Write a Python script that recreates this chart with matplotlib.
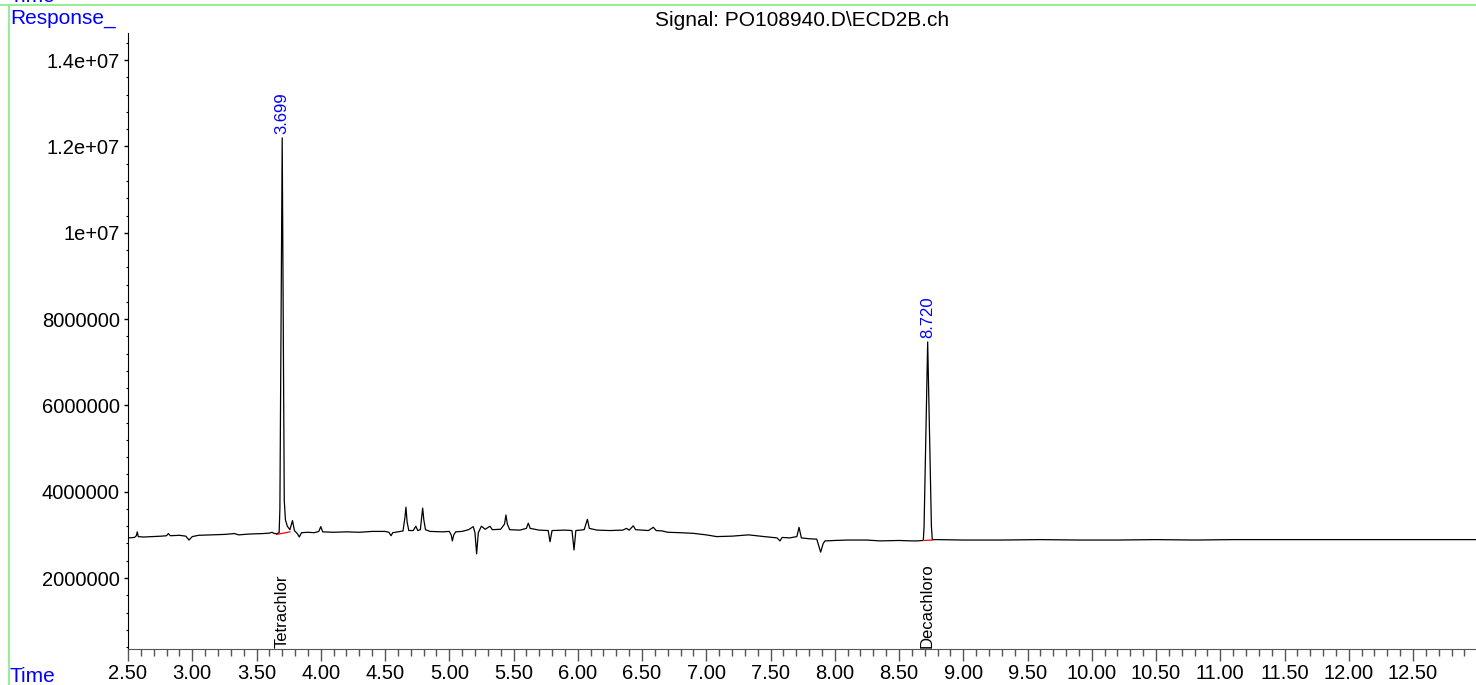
import matplotlib.pyplot as plt
from matplotlib.ticker import MultipleLocator, FixedLocator

plt.rcParams['font.family'] = ['Liberation Sans', 'DejaVu Sans']

# Signal trace (time in min, response in millions)
time = [2.50, 2.55, 2.565, 2.572, 2.58, 2.62, 2.70, 2.76, 2.80, 2.814, 2.83, 2.90,
        2.95, 2.975, 3.00, 3.05, 3.15, 3.25, 3.33, 3.36, 3.45, 3.55, 3.60, 3.62,
        3.64, 3.66, 3.676, 3.682, 3.700, 3.716, 3.725, 3.74, 3.76, 3.78, 3.795,
        3.82, 3.833, 3.85, 3.90, 3.95, 3.985, 4.00, 4.015, 4.10, 4.20, 4.30,
        4.40, 4.50, 4.53, 4.547, 4.56, 4.60, 4.64, 4.655, 4.663, 4.672, 4.685,
        4.72, 4.74, 4.755, 4.775, 4.785, 4.793, 4.802, 4.815, 4.85, 4.95, 5.00,
        5.015, 5.024, 5.035, 5.05, 5.10, 5.15, 5.187, 5.20, 5.213, 5.226, 5.25,
        5.28, 5.317, 5.335, 5.40, 5.43, 5.441, 5.452, 5.47, 5.55, 5.60, 5.615,
        5.63, 5.70, 5.77, 5.784, 5.80, 5.90, 5.955, 5.971, 5.985, 6.05, 6.075,
        6.09, 6.15, 6.25, 6.35, 6.38, 6.40, 6.432, 6.45, 6.55, 6.588, 6.61,
        6.658, 6.70, 6.80, 6.90, 7.00, 7.08, 7.20, 7.33, 7.45, 7.55, 7.574,
        7.59, 7.65, 7.705, 7.722, 7.74, 7.80, 7.86, 7.89, 7.91, 7.924, 8.00,
        8.10, 8.248, 8.35, 8.50, 8.60, 8.64, 8.689, 8.695, 8.723, 8.752, 8.759,
        8.80, 9.00, 9.30, 9.60, 9.90, 10.20, 10.50, 10.80, 11.10, 11.40, 11.70,
        12.00, 12.30, 12.60, 12.99]
response = [2.93, 2.94, 2.98, 3.07, 2.96, 2.95, 2.96, 2.97, 2.98, 3.03, 2.98, 2.99,
            2.97, 2.88, 2.96, 2.99, 3.00, 3.01, 3.03, 3.00, 3.02, 3.03, 3.04, 3.06,
            3.03, 3.03, 3.05, 3.60, 12.20, 3.80, 3.35, 3.20, 3.12, 3.33, 3.10,
            3.02, 2.95, 3.05, 3.06, 3.05, 3.08, 3.19, 3.07, 3.06, 3.07, 3.06,
            3.08, 3.08, 3.06, 2.98, 3.05, 3.07, 3.09, 3.40, 3.64, 3.30, 3.10,
            3.10, 3.20, 3.10, 3.12, 3.40, 3.62, 3.35, 3.12, 3.08, 3.07, 3.08,
            3.00, 2.86, 3.00, 3.07, 3.08, 3.12, 3.19, 3.05, 2.56, 3.05, 3.20,
            3.13, 3.20, 3.12, 3.13, 3.25, 3.46, 3.25, 3.12, 3.11, 3.15, 3.27,
            3.15, 3.11, 3.10, 2.84, 3.10, 3.11, 3.10, 2.65, 3.10, 3.12, 3.36,
            3.15, 3.11, 3.10, 3.11, 3.15, 3.11, 3.21, 3.12, 3.10, 3.175, 3.10,
            3.09, 3.06, 3.05, 3.035, 3.00, 2.96, 2.97, 3.00, 2.96, 2.93, 2.86,
            2.94, 2.93, 2.96, 3.175, 2.93, 2.91, 2.90, 2.60, 2.80, 2.86, 2.87,
            2.88, 2.88, 2.86, 2.87, 2.86, 2.86, 2.87, 3.20, 7.47, 3.20, 2.89,
            2.89, 2.88, 2.88, 2.89, 2.88, 2.88, 2.89, 2.88, 2.89, 2.89, 2.89,
            2.89, 2.89, 2.89, 2.89]

# Integrated peaks
peak_rt = [3.699, 8.720]
peak_top = [12.20, 7.47]
peak_names = ['Tetrachlor', 'Decachloro']
base_t = [[3.657, 3.76], [8.689, 8.76]]
base_r = [[3.01, 3.07], [2.87, 2.88]]

y_ticks = [2e6, 4e6, 6e6, 8e6, 1e7, 1.2e7, 1.4e7]
y_labels = ['2000000', '4000000', '6000000', '8000000', '1e+07', '1.2e+07', '1.4e+07']

fig = plt.figure(figsize=(14.76, 6.85), dpi=100)
ax = fig.add_axes([128 / 1476, 36 / 685, 1 - 128 / 1476, 616 / 685])

ax.plot(time, [r * 1e6 for r in response], color='black', lw=0.9)
for bt, br in zip(base_t, base_r):
    ax.plot(bt, [v * 1e6 for v in br], color='red', lw=0.9)

for rt, top, name in zip(peak_rt, peak_top, peak_names):
    ax.text(rt, top * 1e6 + 1.0e5, f'{rt:.3f}', rotation=90, color='blue',
            ha='center', va='bottom', fontsize=12)
    ax.text(rt, 0.38e6, name, rotation=90, color='black',
            ha='center', va='bottom', fontsize=12)

ax.set_xlim(2.5, 12.99)
ax.set_ylim(0.355e6, 14.63e6)
ax.xaxis.set_major_locator(MultipleLocator(0.5))
ax.xaxis.set_minor_locator(MultipleLocator(0.1))
ax.xaxis.set_major_formatter(plt.FuncFormatter(lambda v, p: f'{v:.2f}'))
ax.yaxis.set_major_locator(FixedLocator(y_ticks))
ax.set_yticklabels(y_labels)
ax.yaxis.set_minor_locator(MultipleLocator(4e5))

for s in ['top', 'right']:
    ax.spines[s].set_visible(False)
ax.spines['bottom'].set_color('#555555')
ax.spines['left'].set_color('black')
ax.tick_params(axis='x', which='major', length=8.6, width=1, color='#555555',
               labelsize=14.5, pad=2.5)
ax.tick_params(axis='x', which='minor', length=5, width=1, color='#555555')
ax.tick_params(axis='y', which='major', length=3, width=1, labelsize=14.5, pad=3)
ax.tick_params(axis='y', which='minor', length=1.5, width=0.8)

# header / frame decorations
fig.text((128 + 1476) / 2 / 1476, 1 - 20 / 685, 'Signal: PO108940.D\\ECD2B.ch',
         ha='center', va='center', fontsize=15)
fig.text(10 / 1476, 1 - 19 / 685, 'Response_', color='blue', ha='left',
         va='center', fontsize=15)
fig.text(10 / 1476, 1 + 4 / 685, 'Time', color='blue', ha='left', va='center',
         fontsize=15)
fig.text(10 / 1476, 8 / 685, 'Time', color='blue', ha='left', va='center',
         fontsize=15)
fig.add_artist(plt.Line2D([0, 1], [1 - 5 / 685] * 2, color='#98ee98', lw=1.5))
fig.add_artist(plt.Line2D([9 / 1476] * 2, [0, 1 - 5 / 685], color='#98ee98', lw=1.5))

fig.savefig('out.png', dpi=100)
